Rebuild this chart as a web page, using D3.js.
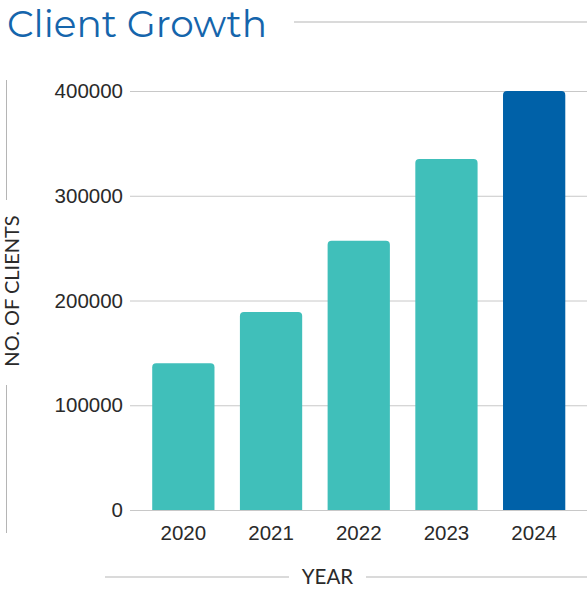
<!DOCTYPE html>
<html>
<head>
<meta charset="utf-8">
<script src="https://cdn.jsdelivr.net/npm/d3@7"></script>
<style>
  html, body { margin: 0; padding: 0; background: #fff; }
  svg { display: block; }
</style>
</head>
<body>
<svg id="chart" width="587" height="589"></svg>
<script>
// Client counts per year
const years = ["2020", "2021", "2022", "2023", "2024"];
const clients = [140000, 189000, 257000, 335000, 400000];
const yTicks = [0, 100000, 200000, 300000, 400000];
const barColors = ["#40bfba", "#40bfba", "#40bfba", "#40bfba", "#0061a8"];

const svg = d3.select("#chart");
const W = 587, H = 589;
const plot = { left: 130, right: 587, top: 91, bottom: 510 };
const tickFont = "'Liberation Sans', Arial, sans-serif";
const labelFont = "Lato, 'Open Sans', sans-serif";

const x = d3.scaleBand()
  .domain(years)
  .range([139.5, 578])
  .paddingInner(0.29)
  .paddingOuter(0.145);

const y = d3.scaleLinear()
  .domain([0, 400000])
  .range([plot.bottom, plot.top]);

// Title with trailing rule
svg.append("text")
  .attr("x", 7)
  .attr("y", 37)
  .attr("font-family", "Montserrat, 'Open Sans', sans-serif")
  .attr("font-size", 37.5)
  .attr("fill", "#1565ac")
  .text("Client Growth");
svg.append("line")
  .attr("x1", 294).attr("x2", W).attr("y1", 22).attr("y2", 22)
  .attr("stroke", "#b5b5b5").attr("stroke-width", 1);

// Gridlines + y tick labels
const yAxis = d3.axisLeft(y).tickValues(yTicks).tickFormat(d3.format("d"))
  .tickSize(-(plot.right - plot.left)).tickPadding(7);
const gy = svg.append("g")
  .attr("transform", `translate(${plot.left},0)`)
  .call(yAxis);
gy.select(".domain").remove();
gy.selectAll(".tick line").attr("stroke", "#c8c8c8").attr("stroke-width", 1);
gy.selectAll(".tick text")
  .attr("font-family", tickFont)
  .attr("font-size", 20.5)
  .attr("fill", "#2a2a2a");

// Bars with rounded tops
const r = 4;
function barPath(x0, w, yTop, yBase) {
  return `M${x0},${yBase}V${yTop + r}Q${x0},${yTop} ${x0 + r},${yTop}` +
         `H${x0 + w - r}Q${x0 + w},${yTop} ${x0 + w},${yTop + r}V${yBase}Z`;
}
svg.append("g").selectAll("path")
  .data(years.map((yr, i) => ({ yr, v: clients[i], c: barColors[i] })))
  .join("path")
  .attr("d", d => barPath(x(d.yr), x.bandwidth(), y(d.v), y(0)))
  .attr("fill", d => d.c);

// x tick labels
const xAxis = d3.axisBottom(x).tickSize(0).tickPadding(15.5);
const gx = svg.append("g")
  .attr("transform", `translate(0,${plot.bottom})`)
  .call(xAxis);
gx.select(".domain").remove();
gx.selectAll(".tick text")
  .attr("font-family", tickFont)
  .attr("font-size", 20.5)
  .attr("fill", "#2a2a2a");

// x axis title with side rules
svg.append("text")
  .attr("x", 327.5).attr("y", 584)
  .attr("text-anchor", "middle")
  .attr("font-family", labelFont)
  .attr("font-size", 20.5)
  .attr("fill", "#2a2a2a")
  .text("YEAR");
svg.append("line").attr("x1", 105).attr("x2", 289).attr("y1", 577).attr("y2", 577)
  .attr("stroke", "#b5b5b5");
svg.append("line").attr("x1", 366).attr("x2", W).attr("y1", 577).attr("y2", 577)
  .attr("stroke", "#b5b5b5");

// y axis title with side rules
svg.append("text")
  .attr("transform", "translate(19,291) rotate(-90)")
  .attr("text-anchor", "middle")
  .attr("font-family", labelFont)
  .attr("font-size", 20)
  .attr("fill", "#2a2a2a")
  .text("NO. OF CLIENTS");
svg.append("line").attr("x1", 6.5).attr("x2", 6.5).attr("y1", 80).attr("y2", 200)
  .attr("stroke", "#b5b5b5");
svg.append("line").attr("x1", 6.5).attr("x2", 6.5).attr("y1", 385).attr("y2", 533)
  .attr("stroke", "#b5b5b5");
</script>
</body>
</html>
